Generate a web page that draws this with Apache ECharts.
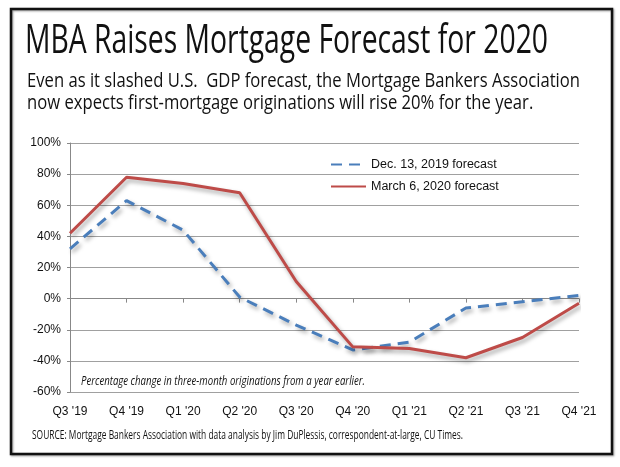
<!DOCTYPE html>
<html>
<head>
<meta charset="utf-8">
<script src="https://cdn.jsdelivr.net/npm/echarts@6/dist/echarts.min.js"></script>
<style>
html,body{margin:0;padding:0;background:#fff;}
#c{width:620px;height:467px;}
</style>
</head>
<body>
<div id="c"></div>
<script>
var categories = ["Q3 '19","Q4 '19","Q1 '20","Q2 '20","Q3 '20","Q4 '20","Q1 '21","Q2 '21","Q3 '21","Q4 '21"];
var decForecast = [32, 63, 44, 1, -17, -33, -28, -6, -2, 2];
var marForecast = [42, 78, 74, 68, 11, -31, -32, -38, -25, -3];
var seriesNames = ["Dec. 13, 2019 forecast", "March 6, 2020 forecast"];
var titleText = "MBA Raises Mortgage Forecast for 2020";
var subLine1 = "Even as it slashed U.S.  GDP forecast, the Mortgage Bankers Association";
var subLine2 = "now expects first-mortgage originations will rise 20% for the year.";
var noteText = "Percentage change in three-month originations from a year earlier.";
var sourceText = "SOURCE: Mortgage Bankers Association with data analysis by Jim DuPlessis, correspondent-at-large, CU Times.";

var ctx = document.createElement('canvas').getContext('2d');
function measure(text, font){ ctx.font = font; return ctx.measureText(text).width; }
function fitText(text, font, x, y, targetW, scaleOverride){
  var w = measure(text, font);
  var s = scaleOverride || targetW / w;
  return {el:{type:'text', x:x, y:y, scaleX:s, scaleY:1, style:{text:text, font:font, fill:'#111', align:'left', verticalAlign:'top'}}, s:s};
}
var FF = "'Open Sans', sans-serif";
var tF = "40px " + FF;
var sF = "20px " + FF;
var title = fitText(titleText, tF, 25, 22, 523);
var s1 = fitText(subLine1, sF, 27, 71, 553);
var s2 = fitText(subLine2, sF, 27, 93, 0, s1.s);
var note = fitText(noteText, "italic 12.5px " + FF, 81, 375, 284);
var src = fitText(sourceText, "12.5px " + FF, 32, 429, 431);

var chart = echarts.init(document.getElementById('c'), null, {renderer:'canvas'});
chart.setOption({
  backgroundColor:'#fff',
  animation:false,
  grid:{left:70, right:41, top:143, bottom:75},
  legend:{
    orient:'vertical', left:325, top:153, itemWidth:35, itemHeight:14, itemGap:9,
    data:seriesNames,
    itemStyle:{opacity:0},
    textStyle:{fontFamily:"'Liberation Sans', Arial, sans-serif", fontSize:12.5, color:'#111'}
  },
  xAxis:[{
    type:'category', data:categories, boundaryGap:false, position:'bottom',
    axisLine:{onZero:true, lineStyle:{color:'#888', width:1}},
    axisTick:{show:true, length:4, alignWithLabel:true, lineStyle:{color:'#888'}},
    axisLabel:{show:false}, splitLine:{show:false}
  },{
    type:'category', data:categories, boundaryGap:false, position:'bottom',
    axisLine:{show:false, onZero:false}, axisTick:{show:false},
    axisLabel:{show:true, margin:14, fontFamily:"'Liberation Sans', Arial, sans-serif", fontSize:12, color:'#111'},
    splitLine:{show:false}
  }],
  yAxis:{
    type:'value', min:-60, max:100, interval:20,
    axisLine:{show:true, lineStyle:{color:'#888'}},
    axisTick:{show:true, length:3, lineStyle:{color:'#888'}},
    axisLabel:{formatter:'{value}%', margin:9, fontFamily:"'Liberation Sans', Arial, sans-serif", fontSize:12, color:'#111'},
    splitLine:{show:true, lineStyle:{color:'#a0a0a0', width:1}}
  },
  series:[{
    name:seriesNames[0], type:'line', data:decForecast, xAxisIndex:0, symbol:'none',
    lineStyle:{color:'#4a7ebb', width:3, type:[11,7], shadowColor:'rgba(0,0,0,0.35)', shadowBlur:4, shadowOffsetX:2, shadowOffsetY:3},
    itemStyle:{color:'#4a7ebb'}
  },{
    name:seriesNames[1], type:'line', data:marForecast, xAxisIndex:0, symbol:'none',
    lineStyle:{color:'#be4b48', width:3, shadowColor:'rgba(0,0,0,0.35)', shadowBlur:4, shadowOffsetX:2, shadowOffsetY:3},
    itemStyle:{color:'#be4b48'}
  }],
  graphic:[
    {type:'rect', shape:{x:11, y:9, width:601, height:445}, style:{fill:'none', stroke:'#111', lineWidth:2.5, shadowColor:'rgba(0,0,0,0.4)', shadowBlur:2, shadowOffsetX:1, shadowOffsetY:1}, silent:true},
    title.el, s1.el, s2.el, note.el, src.el
  ]
});
</script>
</body>
</html>
